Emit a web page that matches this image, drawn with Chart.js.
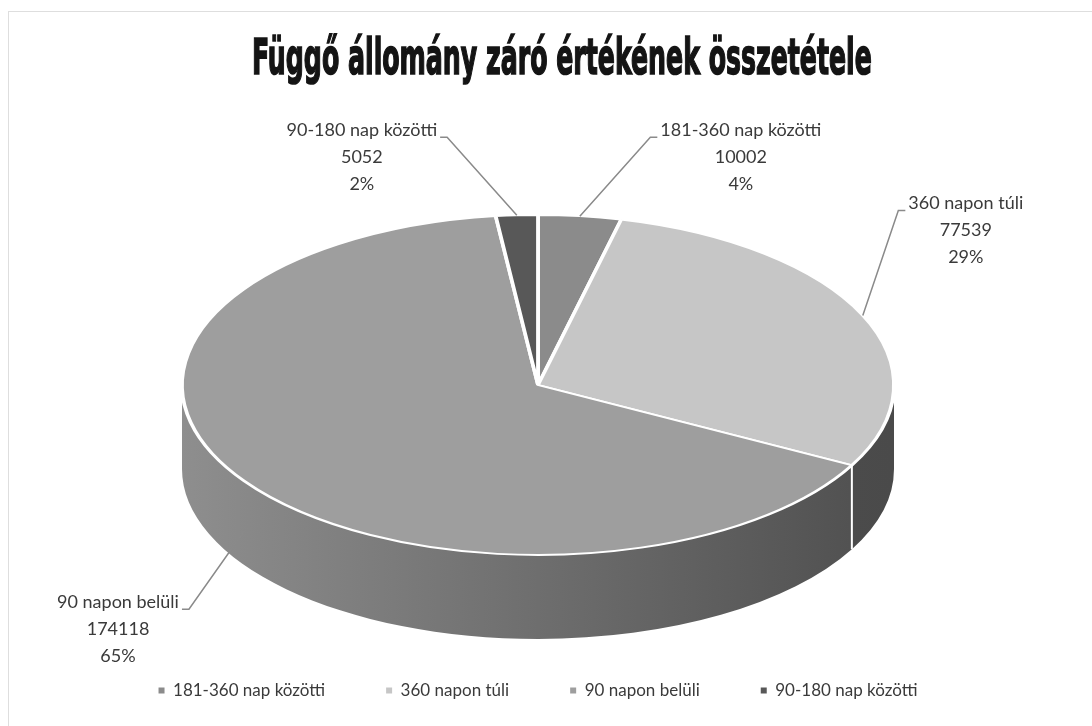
<!DOCTYPE html>
<html><head><meta charset="utf-8">
<script src="https://cdn.jsdelivr.net/npm/chart.js@4.4.1/dist/chart.umd.min.js"></script>
<style>
html,body{margin:0;padding:0;background:#fff;overflow:hidden;width:1092px;height:726px;}
#frame{position:absolute;left:8px;top:11px;width:1090px;height:720px;border-top:1px solid #dedede;border-left:1px solid #dedede;}
#wrap{position:absolute;left:0;top:0;width:1092px;height:726px;}
#title{position:absolute;top:33px;left:0;white-space:nowrap;font-family:'DejaVu Sans Condensed','DejaVu Sans',sans-serif;font-weight:bold;font-size:49px;line-height:1;color:#141414;-webkit-text-stroke:1.6px #141414;transform-origin:0 0;}
</style></head><body>
<div id="frame"></div>
<div id="wrap"><canvas id="c" width="1092" height="726"></canvas></div>
<div id="title"></div>
<script>
// ---- data ----
const TITLE = 'Függő állomány záró értékének összetétele';
const categories = ['181-360 nap közötti', '360 napon túli', '90 napon belüli', '90-180 nap közötti'];
const values = [10002, 77539, 174118, 5052];

// ---- style ----
const topColors = ['#8b8b8b', '#c6c6c6', '#9e9e9e', '#585858'];
const sideColors = [['#6a6a6a', '#5a5a5a'], ['#5a5a5a', '#4a4a4a'], ['#8e8e8e', '#4e4e4e'], ['#444444', '#3a3a3a']];
const PIE_RX = 356, PIE_RY = 170, PIE_DEPTH = 84;
const LABEL_OFFSETS = [{dx: 161, dy: -59}, {dx: 103, dy: -85}, {dx: -126, dy: 98}, {dx: -155, dy: -58}];
const LABEL_FONT = '18px Lato';
const LINE_GAP = 27;
const TITLE_CX = 562, TITLE_W = 620;

// title
const t = document.getElementById('title');
t.textContent = TITLE;
const tw = t.offsetWidth;
t.style.transform = 'scaleX(' + (TITLE_W / tw) + ')';
t.style.left = (TITLE_CX - TITLE_W / 2) + 'px';

const total = values.reduce((a, b) => a + b, 0);
const pctLabels = values.map(v => Math.round(v / total * 100) + '%');

const pie3d = {
  id: 'pie3d',
  beforeDatasetsDraw(chart) {
    const arcs = chart.getDatasetMeta(0).data;
    const ctx = chart.ctx;
    const cx = arcs[0].x, cy = arcs[0].y, R = arcs[0].outerRadius;
    arcs.forEach((arc, i) => {
      const s = Math.max(arc.startAngle, 0), e = Math.min(arc.endAngle, Math.PI);
      if (e <= s) return;
      const g = ctx.createLinearGradient(cx - PIE_RX, 0, cx + PIE_RX, 0);
      g.addColorStop(0, sideColors[i][0]);
      g.addColorStop(1, sideColors[i][1]);
      ctx.save();
      ctx.beginPath();
      ctx.ellipse(cx, cy, PIE_RX, PIE_RY, 0, s, e);
      ctx.ellipse(cx, cy + PIE_DEPTH, PIE_RX, PIE_RY, 0, e, s, true);
      ctx.closePath();
      ctx.fillStyle = g;
      ctx.fill();
      ctx.restore();
    });
    ctx.save();
    ctx.strokeStyle = '#ffffff';
    ctx.lineWidth = 2;
    arcs.forEach(arc => {
      const a = arc.endAngle;
      if (a > 0 && a < Math.PI) {
        const x = cx + PIE_RX * Math.cos(a), y = cy + PIE_RY * Math.sin(a);
        ctx.beginPath(); ctx.moveTo(x, y); ctx.lineTo(x, y + PIE_DEPTH); ctx.stroke();
      }
    });
    ctx.restore();
    ctx.save();
    ctx.translate(cx, cy);
    ctx.scale(PIE_RX / R, PIE_RY / R);
    ctx.translate(-cx, -cy);
  },
  afterDatasetsDraw(chart) {
    const ctx = chart.ctx;
    ctx.restore();
    const arcs = chart.getDatasetMeta(0).data;
    const cx = arcs[0].x, cy = arcs[0].y;
    ctx.save();
    ctx.font = LABEL_FONT;
    ctx.textAlign = 'center';
    ctx.textBaseline = 'middle';
    arcs.forEach((arc, i) => {
      const m = (arc.startAngle + arc.endAngle) / 2;
      let ax = cx + PIE_RX * Math.cos(m), ay = cy + PIE_RY * Math.sin(m);
      if (Math.sin(m) > 0) ay += PIE_DEPTH * 0.6;
      const off = LABEL_OFFSETS[i];
      const tx = ax + off.dx, ty = ay + off.dy;
      const lines = [categories[i], String(values[i]), pctLabels[i]];
      const w1 = ctx.measureText(lines[0]).width;
      const sign = off.dx > 0 ? 1 : -1;
      const edgeX = sign > 0 ? tx - w1 / 2 - 3 : tx + w1 / 2 + 3;
      const lineY = ty - LINE_GAP + 7;
      ctx.strokeStyle = '#8a8a8a';
      ctx.lineWidth = 1.5;
      ctx.beginPath();
      ctx.moveTo(ax, ay);
      ctx.lineTo(edgeX - sign * 7, lineY);
      ctx.lineTo(edgeX, lineY);
      ctx.stroke();
      ctx.fillStyle = '#3a3a3a';
      lines.forEach((s, k) => ctx.fillText(s, tx, ty + (k - 1) * LINE_GAP));
    });
    ctx.restore();
  }
};

new Chart(document.getElementById('c'), {
  type: 'pie',
  data: {
    labels: categories,
    datasets: [{
      data: values,
      backgroundColor: topColors,
      borderColor: '#ffffff',
      borderWidth: 2.5
    }]
  },
  options: {
    responsive: false,
    animation: false,
    layout: {padding: {top: 149, bottom: 17, left: 0, right: 16}},
    plugins: {
      tooltip: {enabled: false},
      title: {display: false},
      legend: {
        position: 'bottom',
        labels: {
          usePointStyle: true,
          pointStyle: 'rect',
          boxWidth: 6,
          boxHeight: 6,
          padding: 61,
          color: '#3a3a3a',
          font: {family: 'Lato', size: 17},
          generateLabels(chart) {
            const items = Chart.overrides.pie.plugins.legend.labels.generateLabels(chart);
            items.forEach(it => { it.lineWidth = 0; it.strokeStyle = 'rgba(0,0,0,0)'; });
            return items;
          }
        }
      }
    }
  },
  plugins: [pie3d]
});
</script>
</body></html>
